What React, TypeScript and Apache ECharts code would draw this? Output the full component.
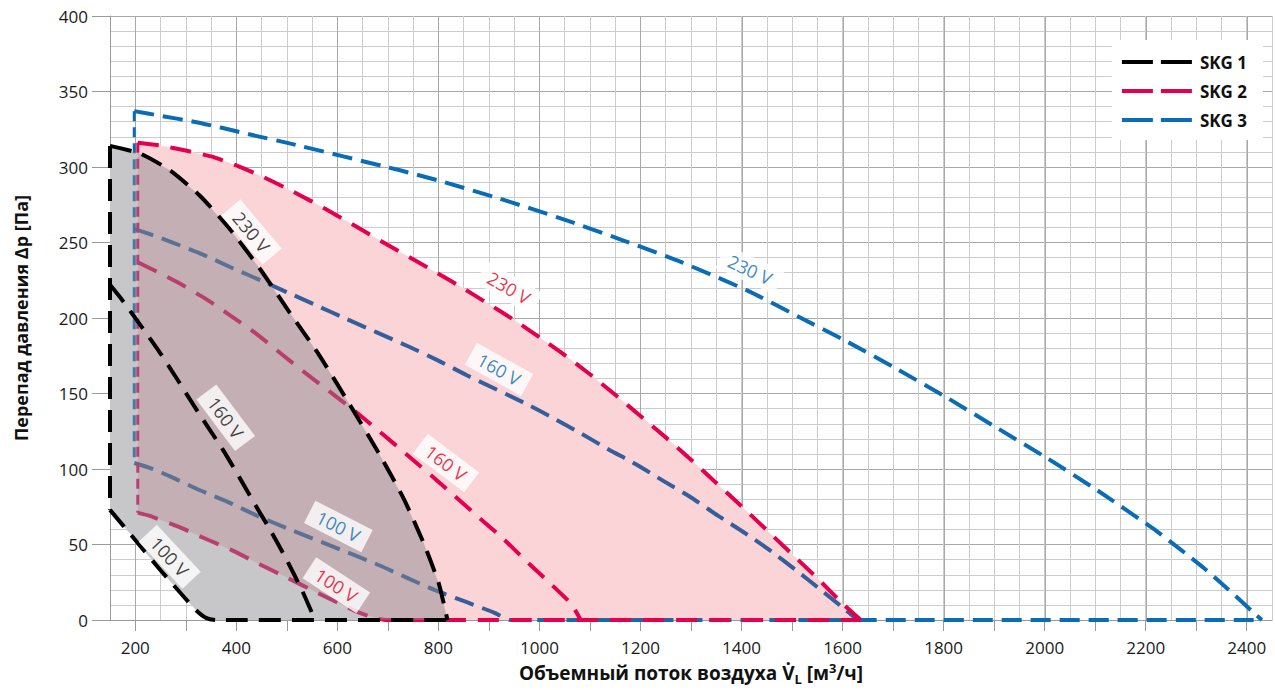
import React, { useEffect, useRef } from 'react';
import * as echarts from 'echarts';

type Pt = [number, number];

// ---- axes ----
const xLabelValues = [200, 400, 600, 800, 1000, 1200, 1400, 1600, 1800, 2000, 2200, 2400];
const xTickValues = [200, 300, 400, 500, 600, 700, 800, 900, 1000, 1100, 1200, 1300, 1400, 1500, 1600, 1700, 1800, 1900, 2000, 2100, 2200, 2300, 2400];
const X_MIN = 150;
const X_MAX = 2450;
const Y_MIN = 0;
const Y_MAX = 400;

// ---- SKG 1 (black) ----
const skg1Left: Pt[] = [[150, 314], [150, 73]];
const skg1V230: Pt[] = [[150, 314], [209, 309], [268, 298], [328, 281], [387, 259], [446, 233], [505, 204], [565, 175], [624, 143], [683, 110], [732, 80], [772, 50], [801, 24], [818, 0]];
const skg1V160: Pt[] = [[150, 222], [174, 212], [213, 194], [249, 177], [284, 159], [318, 141], [373, 113], [407, 94], [438, 76], [470, 58], [501, 39], [531, 19], [556, 0]];
const skg1V100: Pt[] = [[150, 73], [200, 53], [250, 33], [300, 14], [322, 6], [340, 1.5], [360, 0], [818, 0]];

// ---- SKG 2 (red) ----
const skg2Left: Pt[] = [[205, 316], [205, 71]];
const skg2V230: Pt[] = [[205, 316], [250, 314.2], [300, 310.9], [350, 307], [400, 301.1], [450, 293.9], [500, 285.8], [550, 277.1], [600, 267.8], [650, 258.1], [700, 248.4], [750, 238.9], [800, 229.4], [850, 219.5], [900, 209.2], [950, 198.7], [1000, 187.3], [1050, 175.5], [1100, 162.8], [1150, 149.2], [1200, 135.1], [1250, 121], [1300, 106.2], [1350, 90.8], [1400, 75.4], [1450, 59.6], [1500, 43.7], [1550, 27.8], [1600, 11], [1636, 0]];
const skg2V160: Pt[] = [[205, 237], [282, 224], [338, 213], [387, 202], [438, 190], [490, 176], [539, 163], [590, 150], [640, 137], [690, 123], [736, 110], [809, 89], [880, 68], [928, 54], [971, 40], [1019, 25], [1062, 11], [1082, 0]];
const skg2V100: Pt[] = [[205, 71], [229, 69], [284, 62], [338, 54], [393, 46], [446, 37], [501, 28], [555, 19], [604, 11], [643, 5], [673, 1.5], [698, 0], [1636, 0]];

// ---- SKG 3 (blue) ----
const skg3Left: Pt[] = [[198, 337], [198, 104]];
const skg3V230: Pt[] = [[198, 337], [249, 334], [316, 330], [371, 326], [434, 321], [501, 316], [722, 298], [801, 291], [922, 279], [1042, 266], [1161, 252], [1281, 237], [1413, 218], [1512, 201], [1611, 184], [1709, 166], [1808, 147], [1907, 127], [2006, 107], [2104, 86], [2215, 60.5], [2266, 47.5], [2315, 34.5], [2363, 20.5], [2410, 6], [2430, 0]];
const skg3V160: Pt[] = [[198, 259], [225, 256], [274, 250], [334, 242], [393, 233], [448, 225], [501, 217], [561, 208], [614, 200], [742, 181], [799, 172], [857, 162], [969, 144], [1026, 134], [1080, 124], [1137, 113], [1192, 103], [1246, 92], [1301, 81], [1354, 69], [1405, 58], [1457, 46], [1508, 33], [1557, 20], [1605, 7], [1630, 0]];
const skg3V100: Pt[] = [[198, 104], [235, 100], [270, 95], [328, 86], [385, 78], [442, 69], [499, 61], [634, 43], [685, 36], [738, 28], [792, 20], [855, 12], [910, 5], [944, 0], [2430, 0]];

// ---- curve annotations ----
const curveLabels = [
  { group: 'SKG 1', text: '230 V', x: 430, y: 257, angle: -50 },
  { group: 'SKG 1', text: '160 V', x: 379, y: 134, angle: -53 },
  { group: 'SKG 1', text: '100 V', x: 268, y: 42, angle: -47 },
  { group: 'SKG 2', text: '230 V', x: 940, y: 220, angle: -30 },
  { group: 'SKG 2', text: '160 V', x: 815, y: 104, angle: -37 },
  { group: 'SKG 2', text: '100 V', x: 598, y: 23, angle: -33 },
  { group: 'SKG 3', text: '230 V', x: 1417, y: 232, angle: -25 },
  { group: 'SKG 3', text: '160 V', x: 920, y: 166, angle: -29 },
  { group: 'SKG 3', text: '100 V', x: 602, y: 62, angle: -27 },
];

const legendNames = ['SKG 1', 'SKG 2', 'SKG 3'];

const FONT = '"Open Sans", "Noto Sans", "DejaVu Sans", sans-serif';
const C1 = '#000000';
const C2 = '#e4004f';
const C3 = '#0a6cb4';
const labelColors: Record<string, string> = { 'SKG 1': '#111111', 'SKG 2': '#e3001b', 'SKG 3': '#0a6cb4' };

function lineSeries(name: string, data: Pt[], color: string, width: number, dash: number[], z: number, smooth: number | boolean = 0.2) {
  return {
    type: 'line',
    name,
    data,
    z,
    color,
    symbol: 'none',
    showSymbol: false,
    silent: true,
    clip: true,
    smooth,
    lineStyle: { color, width, type: dash, cap: 'butt', join: 'round' },
    emphasis: { disabled: true },
  };
}

function polySeries(points: Pt[], fill: string, z: number) {
  return {
    type: 'custom',
    z,
    silent: true,
    clip: true,
    data: [[points[0][0], points[0][1]]],
    renderItem: (_params: any, api: any) => ({
      type: 'polygon',
      shape: { points: points.map((p) => api.coord(p)) },
      style: { fill, stroke: null },
    }),
  };
}

export default function App() {
  const ref = useRef<HTMLDivElement>(null);
  useEffect(() => {
    if (!ref.current) return;
    const chart = echarts.init(ref.current, undefined, { renderer: 'svg' });

    const skg1Region: Pt[] = [...skg1V230, ...skg1V100.slice().reverse()];
    const skg2Region: Pt[] = [...skg2V230, ...skg2V100.slice().reverse()];

    const option: any = {
      animation: false,
      backgroundColor: '#ffffff',
      grid: { left: 110, right: 0, top: 16, bottom: 69, containLabel: false },
      legend: {
        show: true,
        orient: 'vertical',
        right: 12,
        top: 40,
        backgroundColor: '#ffffff',
        padding: [13, 16, 11, 10],
        itemGap: 11,
        itemWidth: 70,
        itemHeight: 4,
        icon: 'path://M0,0H31V4H0Z M39,0H70V4H39Z',
        selectedMode: false,
        itemStyle: { borderWidth: 0 },
        textStyle: { fontFamily: FONT, fontWeight: 'bold', fontSize: 17, lineHeight: 18, color: '#111', padding: [0, 0, 0, 3] },
        data: legendNames,
      },
      xAxis: [
        {
          type: 'value',
          min: X_MIN,
          max: X_MAX,
          interval: 50,
          position: 'bottom',
          axisLine: { show: true, lineStyle: { color: '#9a9a9a', width: 1 } },
          axisTick: { show: false },
          axisLabel: {
            show: true,
            margin: 19,
            fontSize: 17,
            fontFamily: FONT,
            color: '#1a1a1a',
            formatter: (v: number) => (xLabelValues.indexOf(Math.round(v)) >= 0 ? String(Math.round(v)) : ''),
          },
          splitLine: { show: true, lineStyle: { color: '#cccccc', width: 1 } },
          name: 'Объемный поток воздуха {v|V\u0307}{sub|L} [м{sup|3}/ч]',
          nameLocation: 'middle',
          nameGap: 35,
          nameTextStyle: {
            fontFamily: FONT,
            fontWeight: 'bold',
            fontSize: 19,
            color: '#111',
            lineHeight: 24,
            rich: {
              v: { fontFamily: FONT, fontWeight: 'bold', fontSize: 19, color: '#111', lineHeight: 24 },
              sub: { fontFamily: FONT, fontWeight: 'bold', fontSize: 13, color: '#111', verticalAlign: 'bottom', lineHeight: 14 },
              sup: { fontFamily: FONT, fontWeight: 'bold', fontSize: 13, color: '#111', verticalAlign: 'top', lineHeight: 14 },
            },
          },
        },
        {
          type: 'value',
          min: X_MIN,
          max: X_MAX,
          interval: 50,
          position: 'bottom',
          axisLine: { show: false },
          axisLabel: { show: false },
          splitLine: { show: false },
          axisTick: { show: true, length: 11, lineStyle: { color: '#9a9a9a' }, customValues: xTickValues },
        },
      ],
      yAxis: [
        {
          type: 'value',
          min: Y_MIN,
          max: Y_MAX,
          interval: 10,
          position: 'left',
          axisLine: { show: false },
          axisTick: { show: false },
          axisLabel: { show: false },
          splitLine: { show: true, lineStyle: { color: '#cccccc', width: 1 } },
        },
        {
          type: 'value',
          min: Y_MIN,
          max: Y_MAX,
          interval: 50,
          position: 'left',
          axisLine: { show: true, lineStyle: { color: '#9a9a9a', width: 1 } },
          axisTick: { show: true, length: 18, lineStyle: { color: '#9a9a9a' } },
          axisLabel: { show: true, margin: 22, fontSize: 17, fontFamily: FONT, color: '#1a1a1a' },
          splitLine: { show: true, lineStyle: { color: '#a8a8a8', width: 1 } },
          name: 'Перепад давления Δp [Па]',
          nameLocation: 'middle',
          nameGap: 80,
          nameRotate: 90,
          nameTextStyle: { fontFamily: FONT, fontWeight: 'bold', fontSize: 18, color: '#111' },
        },
      ],
      series: [
        {
          type: 'custom',
          z: 1,
          silent: true,
          clip: true,
          data: xLabelValues.map((v) => [v, Y_MIN]),
          renderItem: (_p: any, api: any) => {
            const v = api.value(0);
            const a = api.coord([v, Y_MIN]);
            const b = api.coord([v, Y_MAX]);
            const x = Math.round(a[0]) + 0.5;
            return { type: 'line', shape: { x1: x, y1: a[1], x2: x, y2: b[1] }, style: { stroke: '#a8a8a8', lineWidth: 1 } };
          },
        },
        polySeries(skg2Region, '#ffffff', 2),
        polySeries(skg1Region, '#ffffff', 2),
        lineSeries('SKG 3', skg3V230, C3, 4, [20, 9], 3),
        lineSeries('SKG 3 160 V', skg3V160, C3, 4, [20, 9], 3),
        lineSeries('SKG 3 100 V', skg3V100, C3, 4, [20, 9], 3),
        lineSeries('SKG 3 min', skg3Left, C3, 3, [10, 6], 3, false),
        polySeries(skg2Region, 'rgba(228,40,50,0.2)', 4),
        lineSeries('SKG 2', skg2V230, C2, 4, [21, 12], 5),
        lineSeries('SKG 2 160 V', skg2V160, C2, 4, [21, 12], 5),
        lineSeries('SKG 2 100 V', skg2V100, C2, 4, [21, 12], 5),
        lineSeries('SKG 2 min', skg2Left, C2, 3, [10, 6], 5, false),
        polySeries(skg1Region, 'rgba(135,136,142,0.47)', 6),
        lineSeries('SKG 1', skg1V230, C1, 4, [22, 11], 7),
        lineSeries('SKG 1 160 V', skg1V160, C1, 4, [22, 11], 7),
        lineSeries('SKG 1 100 V', skg1V100, C1, 4, [22, 11], 7),
        lineSeries('SKG 1 min', skg1Left, C1, 4, [22, 11], 7, false),
        {
          type: 'scatter',
          z: 9,
          silent: true,
          symbolSize: 1,
          itemStyle: { color: 'rgba(0,0,0,0)' },
          data: curveLabels.map((l) => ({
            value: [l.x, l.y],
            label: {
              show: true,
              position: 'inside',
              formatter: l.text,
              rotate: l.angle,
              color: labelColors[l.group],
              backgroundColor: '#ffffff',
              padding: [4, 9, 3, 9],
              fontSize: 18,
              fontFamily: FONT,
            },
          })),
        },
      ],
    };
    chart.setOption(option);
    return () => chart.dispose();
  }, []);
  return <div ref={ref} style={{ position: 'fixed', left: 0, top: 0, width: 1275, height: 690, background: '#fff' }} />;
}
